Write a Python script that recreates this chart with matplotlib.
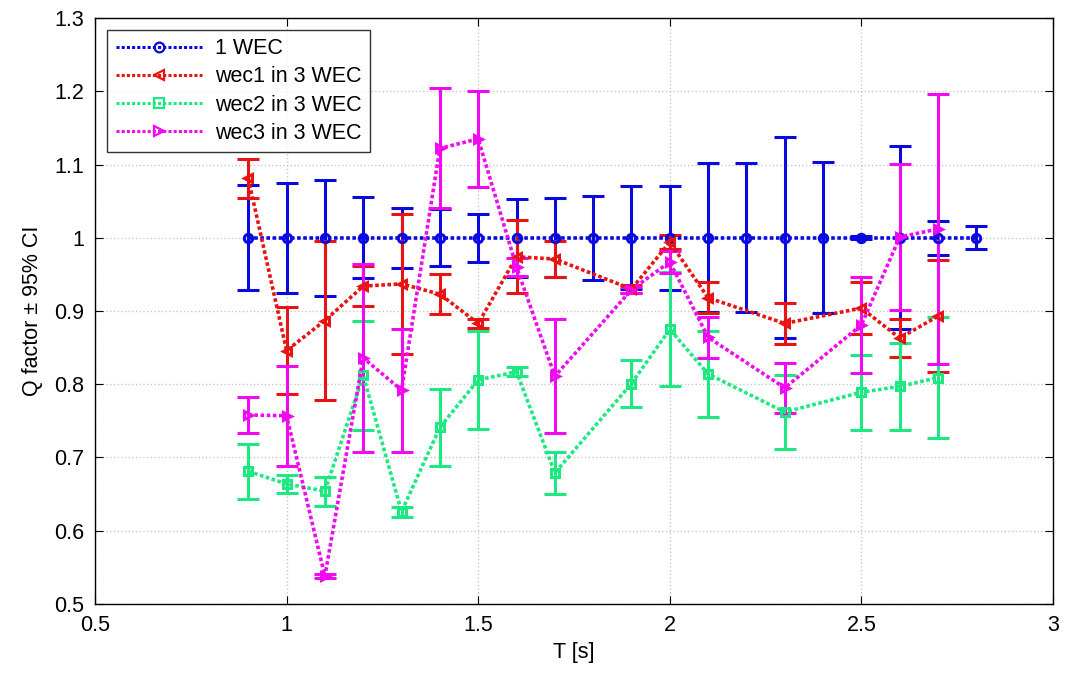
import matplotlib
matplotlib.use("Agg")
import matplotlib.pyplot as plt
from matplotlib.lines import Line2D
from matplotlib.ticker import FormatStrFormatter, MultipleLocator

plt.rcParams['font.family'] = ['Liberation Sans', 'DejaVu Sans']

# 1 WEC
t_single = [0.9, 1.0, 1.1, 1.2, 1.3, 1.4, 1.5, 1.6, 1.7, 1.8,
            1.9, 2.0, 2.1, 2.2, 2.3, 2.4, 2.5, 2.6, 2.7, 2.8]
q_single = [1.0] * 20
ci_single = [0.072, 0.075, 0.079, 0.055, 0.041, 0.039, 0.033, 0.053, 0.054, 0.057,
             0.070, 0.071, 0.102, 0.102, 0.137, 0.103, 0.002, 0.125, 0.023, 0.016]

# three-WEC array
t_array = [0.9, 1.0, 1.1, 1.2, 1.3, 1.4, 1.5, 1.6, 1.7,
           1.9, 2.0, 2.1, 2.3, 2.5, 2.6, 2.7]
q_wec1 = [1.081, 0.846, 0.887, 0.934, 0.937, 0.923, 0.883, 0.974, 0.971,
          0.930, 0.994, 0.918, 0.883, 0.904, 0.863, 0.893]
ci_wec1 = [0.027, 0.060, 0.108, 0.027, 0.096, 0.027, 0.006, 0.050, 0.025,
           0.005, 0.010, 0.021, 0.028, 0.035, 0.026, 0.076]
q_wec2 = [0.681, 0.664, 0.654, 0.812, 0.626, 0.741, 0.806, 0.817, 0.679,
          0.801, 0.875, 0.814, 0.762, 0.789, 0.797, 0.809]
ci_wec2 = [0.038, 0.012, 0.020, 0.075, 0.007, 0.053, 0.067, 0.006, 0.029,
           0.032, 0.078, 0.059, 0.050, 0.051, 0.059, 0.083]
q_wec3 = [0.758, 0.757, 0.538, 0.836, 0.792, 1.122, 1.135, 0.960, 0.811,
          0.929, 0.967, 0.864, 0.795, 0.881, 1.001, 1.012]
ci_wec3 = [0.024, 0.068, 0.003, 0.128, 0.084, 0.082, 0.066, 0.012, 0.078,
           0.004, 0.015, 0.028, 0.034, 0.066, 0.100, 0.184]

fig = plt.figure(figsize=(10.73, 6.8), dpi=100)
ax = fig.add_axes([0.0885, 0.1118, 0.8929, 0.8617])

series = [
    (t_single, q_single, ci_single, '#0a0ae0', 'o', '1 WEC'),
    (t_array, q_wec1, ci_wec1, '#e81414', '<', 'wec1 in 3 WEC'),
    (t_array, q_wec2, ci_wec2, '#1ee882', 's', 'wec2 in 3 WEC'),
    (t_array, q_wec3, ci_wec3, '#f00af0', '>', 'wec3 in 3 WEC'),
]

dots = (1.0, 0.7)
handles = []
for t, q, ci, col, mk, lab in series:
    ax.errorbar(t, q, yerr=ci, color=col, ecolor=col, linestyle=':', linewidth=2.6,
                dashes=dots, marker=mk, markersize=6, markerfacecolor='none',
                markeredgewidth=2.2, elinewidth=2.2, capsize=8, capthick=2.2)
    handles.append(Line2D([], [], color=col, linestyle=':', linewidth=2.2, dashes=dots,
                          marker=mk, markersize=7, markerfacecolor='none',
                          markeredgewidth=1.6, label=lab))

ax.set_xlim(0.5, 3.0)
ax.set_ylim(0.5, 1.3)
ax.xaxis.set_major_locator(MultipleLocator(0.5))
ax.yaxis.set_major_locator(MultipleLocator(0.1))
ax.xaxis.set_major_formatter(FormatStrFormatter('%g'))
ax.yaxis.set_major_formatter(FormatStrFormatter('%g'))
ax.tick_params(direction='in', top=True, right=True, length=6, labelsize=15.5, pad=8)
ax.grid(True, color='#c8c8c8', linestyle=':', linewidth=1)
for s in ax.spines.values():
    s.set_linewidth(1)

ax.set_xlabel('T [s]', fontsize=15.5, labelpad=4)
ax.set_ylabel('Q factor \u00b1 95% CI', fontsize=15.5, labelpad=8)

leg = ax.legend(handles=handles, loc='upper left', bbox_to_anchor=(0.013, 0.98),
                fontsize=15.5, handlelength=4.0, handletextpad=0.6, frameon=True,
                fancybox=False, edgecolor='black', borderpad=0.4, labelspacing=0.33,
                borderaxespad=0)
leg.get_frame().set_linewidth(1)

fig.savefig('out.png', dpi=100)
